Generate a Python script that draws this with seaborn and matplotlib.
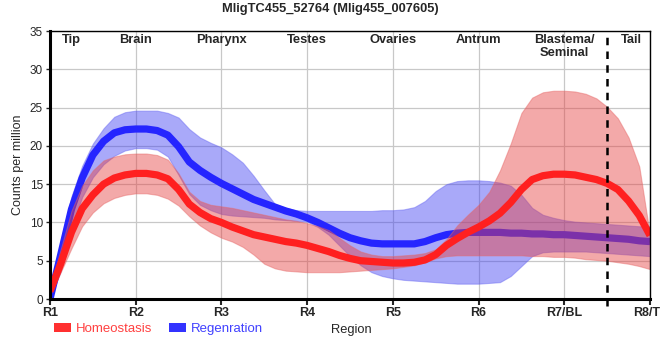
import numpy as np
import pandas as pd
import matplotlib
matplotlib.use("Agg")
import matplotlib.pyplot as plt
import seaborn as sns
from matplotlib.patches import Patch

x_pos = [1.0, 1.125, 1.25, 1.375, 1.5, 1.625, 1.75, 1.875,
         2.0, 2.125, 2.25, 2.375, 2.5, 2.625, 2.75, 2.875,
         3.0, 3.125, 3.25, 3.375, 3.5, 3.625, 3.75, 3.875,
         4.0, 4.125, 4.25, 4.375, 4.5, 4.625, 4.75, 4.875,
         5.0, 5.125, 5.25, 5.375, 5.5, 5.625, 5.75, 5.875,
         6.0, 6.125, 6.25, 6.375, 6.5, 6.625, 6.75, 6.875,
         7.0, 7.125, 7.25, 7.375, 7.5, 7.625, 7.75, 7.875, 8.0]

regen_mean = [0.0, 5.8, 11.7, 15.8, 18.8, 20.6, 21.7, 22.1,
              22.2, 22.2, 22.0, 21.4, 19.9, 17.9, 16.8, 15.9,
              15.1, 14.4, 13.7, 13.0, 12.5, 12.0, 11.5, 11.1,
              10.6, 10.0, 9.3, 8.6, 8.0, 7.6, 7.3, 7.2,
              7.2, 7.2, 7.2, 7.5, 8.0, 8.4, 8.6, 8.7,
              8.7, 8.7, 8.7, 8.6, 8.6, 8.5, 8.5, 8.4,
              8.4, 8.3, 8.2, 8.1, 8.0, 7.9, 7.8, 7.6, 7.5]
regen_upper = [0.0, 7.6, 13.4, 17.4, 20.3, 22.3, 23.8, 24.4,
               24.6, 24.6, 24.6, 24.3, 23.7, 22.2, 21.1, 20.4,
               19.8, 18.9, 17.8, 16.1, 14.2, 12.4, 11.9, 11.6,
               11.5, 11.5, 11.5, 11.5, 11.5, 11.5, 11.5, 11.6,
               11.6, 11.7, 12.0, 12.8, 14.1, 15.0, 15.4, 15.5,
               15.5, 15.4, 15.2, 14.8, 13.6, 11.9, 11.0, 10.6,
               10.3, 10.1, 10.0, 9.9, 9.8, 9.7, 9.6, 9.5, 9.5]
regen_lower = [0.0, 3.6, 9.3, 13.3, 15.9, 17.6, 18.7, 19.4,
               19.7, 19.7, 19.5, 18.6, 16.2, 13.7, 12.3, 11.6,
               11.1, 10.9, 10.8, 10.7, 10.6, 10.4, 10.3, 10.2,
               10.1, 9.4, 8.4, 7.0, 5.6, 4.4, 3.5, 3.0,
               2.7, 2.5, 2.4, 2.3, 2.2, 2.1, 2.0, 2.0,
               2.0, 2.1, 2.2, 3.0, 4.3, 5.6, 6.1, 6.2,
               6.2, 6.2, 6.2, 6.1, 6.0, 5.9, 5.8, 5.7, 5.6]

homeo_mean = [1.0, 4.6, 8.7, 11.8, 13.6, 15.0, 15.8, 16.2,
              16.4, 16.4, 16.2, 15.7, 14.3, 12.4, 11.3, 10.5,
              10.0, 9.4, 8.9, 8.4, 8.1, 7.8, 7.5, 7.3,
              7.0, 6.6, 6.2, 5.7, 5.3, 5.0, 4.9, 4.8,
              4.7, 4.7, 4.8, 5.1, 5.8, 7.0, 7.9, 8.7,
              9.4, 10.2, 11.2, 12.6, 14.3, 15.6, 16.1, 16.3,
              16.3, 16.2, 15.9, 15.6, 15.1, 14.3, 12.8, 10.9, 8.3]
homeo_upper = [1.5, 6.5, 11.5, 14.8, 16.8, 18.1, 18.6, 18.9,
               19.0, 19.0, 18.8, 18.2, 16.4, 14.0, 12.8, 12.3,
               12.1, 11.9, 11.6, 11.3, 11.0, 10.7, 10.4, 10.2,
               9.9, 9.5, 9.0, 8.0, 7.0, 6.2, 5.8, 5.6,
               5.6, 5.7, 5.8, 6.0, 6.5, 7.8, 9.6, 11.0,
               12.3, 14.0, 16.8, 20.3, 24.3, 26.3, 27.0, 27.2,
               27.2, 27.1, 26.8, 26.2, 25.1, 23.6, 21.1, 17.3, 8.3]
homeo_lower = [0.5, 3.5, 6.6, 9.5, 11.3, 12.5, 13.2, 13.6,
               13.8, 13.8, 13.6, 13.1, 12.2, 10.8, 9.6, 8.7,
               8.0, 7.5, 6.8, 5.8, 4.6, 4.0, 3.7, 3.6,
               3.5, 3.5, 3.5, 3.5, 3.6, 3.7, 3.8, 3.9,
               4.0, 4.2, 4.4, 4.8, 5.3, 5.6, 5.7, 5.7,
               5.7, 5.7, 5.7, 5.7, 5.7, 5.6, 5.6, 5.5,
               5.5, 5.4, 5.2, 5.1, 5.0, 4.8, 4.6, 4.3, 3.9]

region_ticks = [1, 2, 3, 4, 5, 6, 7, 8]
region_tick_labels = ["R1", "R2", "R3", "R4", "R5", "R6", "R7/BL", "R8/TL"]
section_names = ["Tip", "Brain", "Pharynx", "Testes", "Ovaries", "Antrum", "Blastema/\nSeminal", "Tail"]
section_pos = [1.25, 2.0, 3.0, 4.0, 5.0, 6.0, 7.0, 7.78]
boundary_x = 7.5

title = "MligTC455_52764 (Mlig455_007605)"

# ---- plot ----
sns.set_style("white")
plt.rcParams["font.family"] = ["Liberation Sans", "DejaVu Sans"]

fig = plt.figure(figsize=(6.6, 3.6), dpi=100)
ax = fig.add_axes([50 / 660, 1 - 299 / 360, 600 / 660, 268 / 360])

red_line = "#ff2020"
blue_line = "#2525ff"
red_band = (0.9, 0.25, 0.25)
blue_band = (0.25, 0.25, 0.95)

df_r = pd.DataFrame({"x": x_pos, "y": regen_mean})
df_h = pd.DataFrame({"x": x_pos, "y": homeo_mean})

ax.fill_between(x_pos, regen_lower, regen_upper, color=blue_band, alpha=0.45,
                linewidth=0.8, edgecolor=(0.4, 0.4, 0.95, 0.6), zorder=2)
sns.lineplot(data=df_r, x="x", y="y", ax=ax, color=blue_line, linewidth=5.2,
             sort=False, zorder=3, solid_capstyle="butt", solid_joinstyle="round")
ax.fill_between(x_pos, homeo_lower, homeo_upper, color=red_band, alpha=0.45,
                linewidth=0.8, edgecolor=(0.9, 0.4, 0.4, 0.6), zorder=4)
sns.lineplot(data=df_h, x="x", y="y", ax=ax, color=red_line, linewidth=5.2,
             sort=False, zorder=5, solid_capstyle="butt", solid_joinstyle="round")

ax.set_xlim(1, 8)
ax.set_ylim(0, 35)
ax.set_yticks(range(0, 36, 5))
ax.set_xticks(region_ticks)
ax.set_xticklabels(region_tick_labels, fontweight="bold", fontsize=9)
ax.tick_params(axis="y", labelsize=8.5, length=3, width=1, pad=2, left=True)
ax.tick_params(axis="x", length=4, width=1.5, pad=2, bottom=True)
ax.grid(True, color="#c8c8c8", linewidth=0.9, zorder=0)
ax.set_axisbelow(True)

for side in ["top", "right"]:
    ax.spines[side].set_linewidth(1.0)
    ax.spines[side].set_color("black")
for side in ["left", "bottom"]:
    ax.spines[side].set_linewidth(2.2)
    ax.spines[side].set_color("black")
for s in ax.spines.values():
    s.set_zorder(10)

ax.axvline(boundary_x, ymin=-0.025, ymax=1, color="black", linestyle=(0, (3, 2.5)),
           linewidth=1.8, clip_on=False, zorder=9)

for name, xp in zip(section_names, section_pos):
    ax.text(xp, 34.6, name, ha="center", va="top", fontweight="bold", fontsize=9.3,
            linespacing=1.15, zorder=11)

ax.set_xlabel("")
ax.set_ylabel("Counts per million", fontsize=9, labelpad=4)
fig.text(351 / 660, 1 - 330 / 360, "Region", ha="center", va="center", fontsize=9.3)

fig.text(330 / 660, 1 - 9 / 360, title, ha="center", va="center",
         fontweight="bold", fontsize=9.3)

handles = [Patch(facecolor="#ff3030", edgecolor="none"),
           Patch(facecolor="#3333ff", edgecolor="none")]
leg = fig.legend(handles, ["Homeostasis", "Regenration"], loc="center left",
                 bbox_to_anchor=(54 / 660, 1 - 329 / 360), ncol=2, frameon=False,
                 fontsize=9.5, handlelength=1.3, handleheight=0.6, handletextpad=0.35,
                 columnspacing=1.3, borderaxespad=0, borderpad=0)
leg.get_texts()[0].set_color("#ff4040")
leg.get_texts()[1].set_color("#4040ff")

fig.savefig("out.png", dpi=100)
